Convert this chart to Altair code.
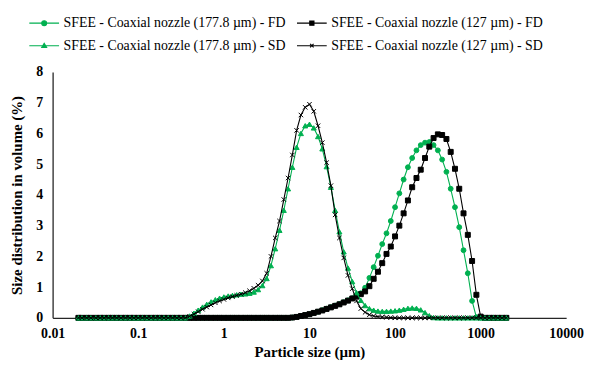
import altair as alt
import pandas as pd

# Particle size classes (µm)
sizes = [0.020, 0.022, 0.025, 0.028, 0.032, 0.036, 0.040, 0.045, 0.050, 0.056,
         0.063, 0.071, 0.080, 0.089, 0.100, 0.112, 0.126, 0.142, 0.159, 0.178,
         0.200, 0.224, 0.252, 0.283, 0.317, 0.356, 0.399, 0.448, 0.502, 0.564,
         0.632, 0.710, 0.796, 0.893, 1.002, 1.125, 1.262, 1.416, 1.589, 1.783,
         2.000, 2.244, 2.518, 2.825, 3.170, 3.557, 3.991, 4.477, 5.024, 5.637,
         6.325, 7.096, 7.962, 8.934, 10.024, 11.247, 12.619, 14.159, 15.887, 17.825,
         20.000, 22.440, 25.179, 28.251, 31.698, 35.566, 39.905, 44.774, 50.238, 56.368,
         63.246, 70.963, 79.621, 89.337, 100.237, 112.468, 126.191, 141.589, 158.866, 178.250,
         200.000, 224.404, 251.785, 282.508, 316.979, 355.656, 399.052, 447.744, 502.377, 563.677,
         632.456, 709.627, 796.214, 893.367, 1002.374, 1124.683, 1261.915, 1415.892, 1588.656, 1782.502,
         2000.000]

fd_178 = [0] * 50 + [
    0.01, 0.03, 0.06, 0.09, 0.12, 0.16, 0.20, 0.25, 0.30, 0.35,
    0.40, 0.45, 0.51, 0.57, 0.64, 0.71, 0.80, 0.98, 1.30, 1.65,
    2.02, 2.40, 2.75, 3.15, 3.60, 4.05, 4.50, 4.90, 5.20, 5.45,
    5.62, 5.70, 5.72, 5.62, 5.45, 5.15, 4.75, 4.20, 3.60, 2.95,
    2.20, 1.45, 0.55, 0.02] + [0] * 7

fd_127 = [0] * 50 + [
    0.01, 0.03, 0.06, 0.09, 0.12, 0.16, 0.20, 0.24, 0.29, 0.34,
    0.39, 0.44, 0.50, 0.56, 0.63, 0.70, 0.77, 0.86, 1.03, 1.27,
    1.50, 1.78, 2.08, 2.32, 2.65, 3.00, 3.40, 3.82, 4.25, 4.55,
    4.82, 5.20, 5.57, 5.85, 5.97, 5.95, 5.82, 5.40, 4.85, 4.20,
    3.40, 2.70, 1.85, 0.75, 0.04] + [0] * 6

sd_178 = [0] * 25 + [
    0.00, 0.06, 0.15, 0.25, 0.35, 0.44, 0.52, 0.59, 0.64, 0.68,
    0.71, 0.73, 0.75, 0.77, 0.78, 0.80, 0.84, 0.92, 1.05, 1.28,
    1.70, 2.25, 2.85, 3.50, 4.20, 4.90, 5.55, 6.00, 6.25, 6.30,
    6.18, 5.90, 5.50, 4.92, 4.25, 3.50, 2.80, 2.15, 1.62, 1.18,
    0.82, 0.57, 0.40, 0.30, 0.25, 0.22, 0.21, 0.21, 0.22, 0.23,
    0.25, 0.28, 0.31, 0.32, 0.31, 0.26, 0.17, 0.07, 0.01] + [0] * 17

sd_127 = [0] * 25 + [
    0.00, 0.05, 0.12, 0.20, 0.28, 0.35, 0.42, 0.49, 0.55, 0.60,
    0.65, 0.69, 0.73, 0.77, 0.82, 0.88, 0.96, 1.06, 1.20, 1.45,
    2.00, 2.60, 3.15, 3.85, 4.55, 5.30, 6.10, 6.60, 6.85, 6.95,
    6.72, 6.25, 5.70, 5.05, 4.30, 3.35, 2.60, 1.95, 1.38, 0.95,
    0.55, 0.30, 0.18, 0.10, 0.06, 0.04, 0.03, 0.02, 0.01] + [0] * 27

series_names = [
    "SFEE - Coaxial nozzle (177.8 µm) - FD",
    "SFEE - Coaxial nozzle (127 µm) - FD",
    "SFEE - Coaxial nozzle (177.8 µm) - SD",
    "SFEE - Coaxial nozzle (127 µm) - SD",
]
x_ticks = [0.01, 0.1, 1, 10, 100, 1000, 10000]
y_ticks = [0, 1, 2, 3, 4, 5, 6, 7, 8]

GREEN = "#00B050"
BLACK = "#000000"
series_colors = [GREEN, BLACK, GREEN, BLACK]
marker_shapes = ["circle", "square", "triangle-up", "M-1,-1L1,1M-1,1L1,-1"]
marker_sizes = [24, 25, 26, 20]
legend_paths = [
    "M-1.2,0H1.2M0.2,0A0.2,0.2 0 1,1 -0.2,0A0.2,0.2 0 1,1 0.2,0Z",
    "M-1.2,0H1.2M-0.17,-0.17H0.17V0.17H-0.17Z",
    "M-1.2,0H1.2M0,-0.2L0.2,0.15H-0.2Z",
    "M-1.2,0H1.2M-0.14,-0.14L0.14,0.14M-0.14,0.14L0.14,-0.14",
]

rows = []
for name, vals in zip(series_names, [fd_178, fd_127, sd_178, sd_127]):
    for s, v in zip(sizes, vals):
        rows.append({"size": s, "value": v, "series": name})
df = pd.DataFrame(rows)

FONT = "'Liberation Serif', 'Times New Roman', 'DejaVu Serif', serif"

x_enc = alt.X(
    "size:Q",
    scale=alt.Scale(type="log", domain=[0.01, 10000]),
    axis=alt.Axis(values=x_ticks, format="~g", title="Particle size (µm)", grid=False,
                  ticks=False, tickSize=0, labelPadding=9, titlePadding=4, labelFlush=False,
                  domainColor="#262626", domainWidth=1.3),
)
y_enc = alt.Y(
    "value:Q",
    scale=alt.Scale(domain=[0, 8]),
    axis=alt.Axis(values=y_ticks, title="Size distribution in volume (%)", grid=False,
                  ticks=False, tickSize=0, labelPadding=10, titlePadding=11, labelFlush=False,
                  domainColor="#262626", domainWidth=1.3),
)
color_scale = alt.Scale(domain=series_names, range=series_colors)

base = alt.Chart(df)

layers = []
for idx, (name, color) in enumerate(zip(series_names, series_colors)):
    layers.append(
        base.transform_filter(alt.datum.series == name)
        .mark_line(strokeWidth=1.1, color=color)
        .encode(x=x_enc, y=y_enc)
    )
    layers.append(
        base.transform_filter(alt.datum.series == name)
        .mark_point(shape=marker_shapes[idx], filled=True, size=marker_sizes[idx],
                    fill=color, stroke=color, strokeWidth=1, opacity=1)
        .encode(x=x_enc, y=y_enc)
    )

legend_layer = (
    base.transform_filter("false")
    .mark_point(filled=True, opacity=1, strokeWidth=1.1)
    .encode(
        x=x_enc,
        y=y_enc,
        fill=alt.Fill("series:N", scale=color_scale, legend=None),
        stroke=alt.Stroke("series:N", scale=color_scale, legend=None),
        shape=alt.Shape(
            "series:N",
            scale=alt.Scale(domain=series_names, range=legend_paths),
            legend=alt.Legend(
                title=None, orient="none", legendX=-22, legendY=-63, columns=2,
                direction="horizontal",
                labelFont=FONT, labelFontSize=14, labelColor="#000000", labelLimit=0,
                labelOffset=6, symbolSize=625, symbolStrokeWidth=1.1,
                columnPadding=8, rowPadding=2, padding=0,
            ),
        ),
    )
)

chart = (
    alt.layer(*layers, legend_layer)
    .properties(width=518, height=248, padding={"left": 2, "top": 0, "right": 0, "bottom": 0})
    .configure_view(stroke=None)
    .configure_axis(
        labelFont=FONT, labelFontSize=14, labelFontWeight="bold", labelColor="#000000",
        titleFont=FONT, titleFontSize=15, titleFontWeight="bold", titleColor="#000000",
    )
)

chart.save("out.html", embed_options={"renderer": "svg", "actions": False})
